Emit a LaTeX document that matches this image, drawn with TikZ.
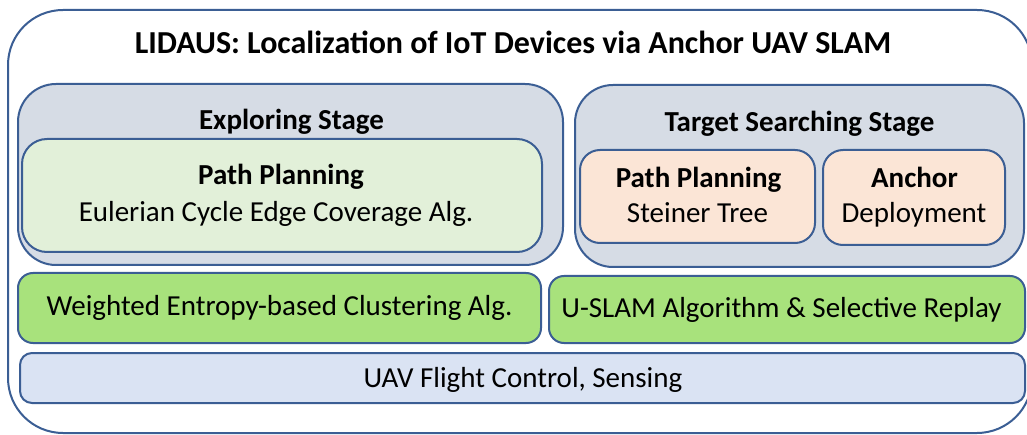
\documentclass[tikz,border=0pt]{standalone}
\usepackage{fontspec}
\setmainfont{Carlito}
\definecolor{edge}{HTML}{3B5E94}
\definecolor{stagefill}{HTML}{D6DCE5}
\definecolor{lightgreen}{HTML}{E2F0D9}
\definecolor{pinkfill}{HTML}{FBE5D6}
\definecolor{brightgreen}{HTML}{A8E27C}
\definecolor{barfill}{HTML}{DAE3F3}
\tikzset{
  box/.style={draw=edge, line width=2pt, inner sep=0pt, outer sep=0pt},
  txt/.style={inner sep=0pt, anchor=base, text=black, font=\fontsize{29}{33}\selectfont},
  btxt/.style={inner sep=0pt, anchor=base, text=black, font=\fontsize{29}{33}\selectfont\bfseries},
}
\begin{document}
\begin{tikzpicture}[x=1pt,y=-1pt]
\useasboundingbox (0,0) rectangle (1027,435);
% outer
\node[box, fill=white, rounded corners=55pt, minimum width=1024pt, minimum height=423pt] (outer) at (520,221.5) {};
\node[btxt, font=\fontsize{32}{36}\selectfont\bfseries] (title) at (513,53.3) {LIDAUS: Localization of IoT Devices via Anchor UAV SLAM};
% exploring stage
\node[box, fill=stagefill, rounded corners=38pt, minimum width=545pt, minimum height=181pt] (explore) at (290.5,174.5) {};
\node[btxt] (exploretitle) at (291.5,130) {Exploring Stage};
\node[box, fill=lightgreen, rounded corners=25pt, minimum width=520pt, minimum height=113pt] (pp1) at (282,195.5) {};
\node[btxt] (pp1a) at (281,185) {Path Planning};
\node[txt] (pp1b) at (276,222) {Eulerian Cycle Edge Coverage Alg.};
% target stage
\node[box, fill=stagefill, rounded corners=38pt, minimum width=449pt, minimum height=182pt] (target) at (799.5,176) {};
\node[btxt] (targettitle) at (799.5,132) {Target Searching Stage};
\node[box, fill=pinkfill, rounded corners=20pt, minimum width=235pt, minimum height=93pt] (pp2) at (697.5,196.5) {};
\node[btxt] (pp2a) at (698.5,188) {Path Planning};
\node[txt] (pp2b) at (697.5,223) {Steiner Tree};
\node[box, fill=pinkfill, rounded corners=20pt, minimum width=182pt, minimum height=95pt] (anchor) at (914,197.5) {};
\node[btxt] (anchora) at (914.5,188) {Anchor};
\node[txt] (anchorb) at (914,223) {Deployment};
% green row
\node[box, fill=brightgreen, rounded corners=15pt, minimum width=523pt, minimum height=70pt] (cluster) at (279.5,308) {};
\node[txt] (clustert) at (279.5,316) {Weighted Entropy-based Clustering Alg.};
\node[box, fill=brightgreen, rounded corners=15pt, minimum width=476pt, minimum height=67pt] (uslam) at (787,309.5) {};
\node[txt] (uslamt) at (781.5,317) {U-SLAM Algorithm \& Selective Replay};
% bottom bar
\node[box, fill=barfill, rounded corners=12pt, minimum width=1005pt, minimum height=50pt] (flight) at (522.5,378) {};
\node[txt] (flightt) at (523,387) {UAV Flight Control, Sensing};
\end{tikzpicture}
\end{document}
